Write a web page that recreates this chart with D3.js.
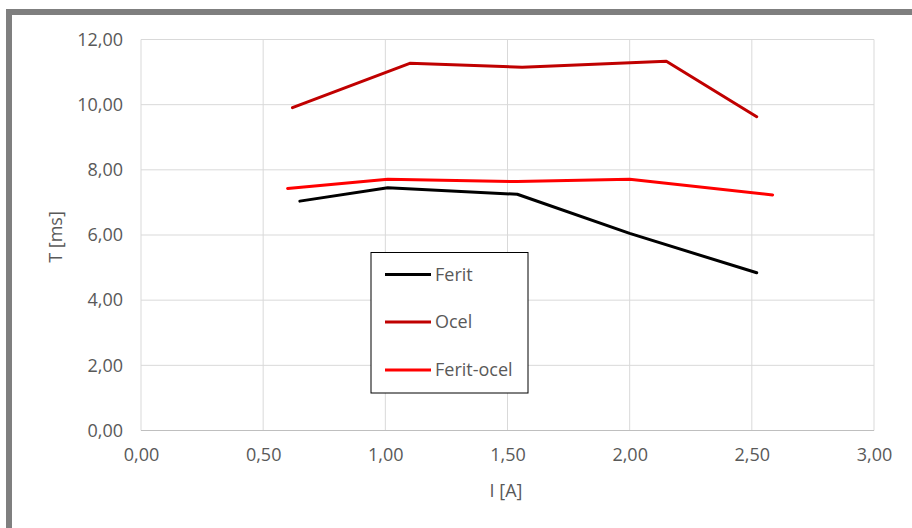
<!DOCTYPE html>
<html><head><meta charset="utf-8">
<script src="https://cdn.jsdelivr.net/npm/d3@7"></script>
<style>body{margin:0;background:#fff;}svg{display:block;font-family:"Open Sans",sans-serif;}</style>
</head><body>
<svg id="c" width="912" height="528"></svg>
<script>
const xTicks = [0, 0.5, 1, 1.5, 2, 2.5, 3];
const yTicks = [0, 2, 4, 6, 8, 10, 12];
const seriesNames = ["Ferit", "Ocel", "Ferit-ocel"];
const seriesColors = ["#000000", "#c00000", "#ff0000"];
const feritX = [0.65, 1.01, 1.54, 2.0, 2.52];
const feritY = [7.04, 7.45, 7.25, 6.05, 4.84];
const ocelX = [0.62, 1.10, 1.56, 2.15, 2.52];
const ocelY = [9.91, 11.27, 11.15, 11.33, 9.63];
const feritOcelX = [0.60, 1.01, 1.54, 2.0, 2.585];
const feritOcelY = [7.43, 7.71, 7.64, 7.71, 7.23];

const svg = d3.select("#c");
const fmt = v => d3.format(".2f")(v).replace(".", ",");
const x = d3.scaleLinear().domain([0, 3]).range([141, 874]);
const y = d3.scaleLinear().domain([0, 12]).range([430.5, 39.5]);
const FS = "18px";

// outer border (top & left)
svg.append("rect").attr("x", 6).attr("y", 9).attr("width", 906).attr("height", 6).attr("fill", "#7f7f7f");
svg.append("rect").attr("x", 6).attr("y", 9).attr("width", 6).attr("height", 519).attr("fill", "#7f7f7f");

// gridlines
svg.append("g").selectAll("line").data(yTicks).join("line")
  .attr("x1", x(0)).attr("x2", x(3)).attr("y1", d => y(d)).attr("y2", d => y(d))
  .attr("stroke", "#d9d9d9").attr("stroke-width", 1);
svg.append("g").selectAll("line").data(xTicks).join("line")
  .attr("y1", y(0)).attr("y2", y(12)).attr("x1", d => x(d)).attr("x2", d => x(d))
  .attr("stroke", "#d9d9d9").attr("stroke-width", 1);
svg.append("line").attr("x1", x(0)).attr("x2", x(3)).attr("y1", y(0)).attr("y2", y(0))
  .attr("stroke", "#bfbfbf").attr("stroke-width", 1);

// axes via d3
const xAxis = svg.append("g").attr("transform", `translate(0,${y(0)})`)
  .call(d3.axisBottom(x).tickValues(xTicks).tickFormat(fmt).tickSize(0).tickPadding(18));
const yAxis = svg.append("g").attr("transform", `translate(${x(0) - 18},0)`)
  .call(d3.axisLeft(y).tickValues(yTicks).tickFormat(fmt).tickSize(0).tickPadding(0));
[xAxis, yAxis].forEach(a => {
  a.select(".domain").remove();
  a.selectAll("text").attr("fill", "#595959").style("font-size", FS).style("font-family", '"Open Sans",sans-serif');
});

// axis titles
svg.append("text").attr("x", 506).attr("y", 497).attr("text-anchor", "middle")
  .attr("fill", "#595959").style("font-size", FS).text("I [A]");
svg.append("text").attr("transform", "translate(62,237) rotate(-90)").attr("text-anchor", "middle")
  .attr("fill", "#595959").style("font-size", FS).text("T [ms]");

// series
const data = [
  feritX.map((v, i) => [v, feritY[i]]),
  ocelX.map((v, i) => [v, ocelY[i]]),
  feritOcelX.map((v, i) => [v, feritOcelY[i]])
];
const line = d3.line().x(d => x(d[0])).y(d => y(d[1]));
svg.append("g").selectAll("path").data(data).join("path")
  .attr("d", line).attr("fill", "none")
  .attr("stroke", (d, i) => seriesColors[i]).attr("stroke-width", 3)
  .attr("stroke-linejoin", "round").attr("stroke-linecap", "round");

// legend
const lg = svg.append("g");
lg.append("rect").attr("x", 371).attr("y", 252.5).attr("width", 157).attr("height", 140.5)
  .attr("fill", "#fff").attr("stroke", "#000").attr("stroke-width", 1);
const legY = [274.5, 322, 370];
seriesNames.forEach((n, i) => {
  lg.append("line").attr("x1", 385).attr("x2", 431).attr("y1", legY[i]).attr("y2", legY[i])
    .attr("stroke", seriesColors[i]).attr("stroke-width", 3);
  lg.append("text").attr("x", 435).attr("y", legY[i]).attr("dy", "0.35em")
    .attr("fill", "#595959").style("font-size", FS).text(n);
});
</script>
</body></html>
